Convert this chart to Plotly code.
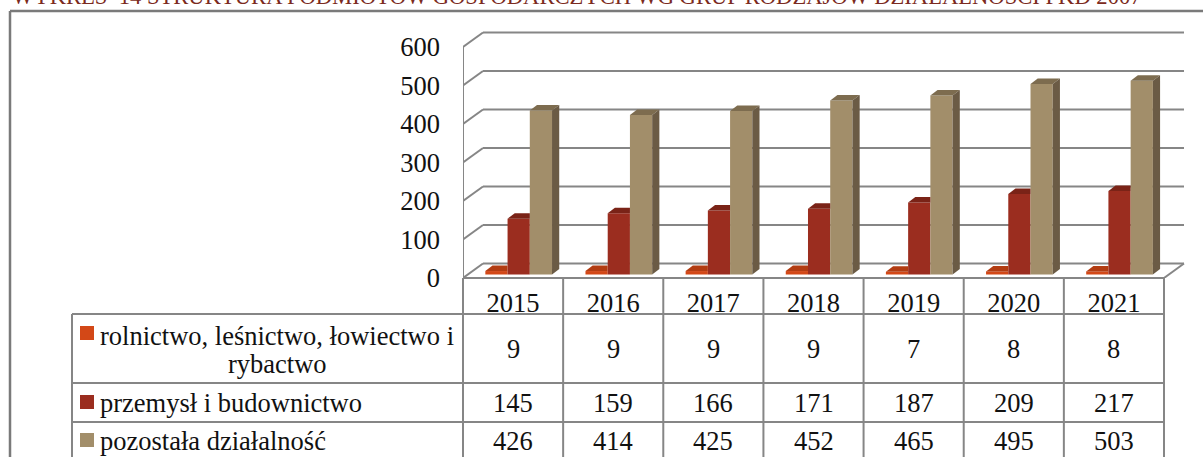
import plotly.graph_objects as go

years = ["2015", "2016", "2017", "2018", "2019", "2020", "2021"]
rolnictwo = [9, 9, 9, 9, 7, 8, 8]
przemysl = [145, 159, 166, 171, 187, 209, 217]
pozostala = [426, 414, 425, 452, 465, 495, 503]
y_ticks = [0, 100, 200, 300, 400, 500, 600]
label_rol_1 = "rolnictwo, leśnictwo, łowiectwo i"
label_rol_2 = "rybactwo"
label_prz = "przemysł i budownictwo"
label_poz = "pozostała działalność"
title = "WYKRES  14 STRUKTURA PODMIOTÓW GOSPODARCZYCH WG GRUP RODZAJÓW DZIAŁALNOŚCI PKD 2007"

W, H = 1203, 457
FONT = "Liberation Serif"
GRID = "#868686"
TXT = "#111111"
FS = 26.5

# plot area in pixels
L, R, T, B = 463, 1190, 20, 278
PX_X = (1164 - 463) / 7          # pixels per category
PX_Y = 0.385                     # pixels per value unit
xr = [-0.5, -0.5 + (R - L) / PX_X]
yr = [0, (B - T) / PX_Y]
ux = lambda px: px / PX_X
uy = lambda px: px / PX_Y
px_paper_x = lambda p: (p - L) / (R - L)
px_paper_y = lambda p: (B - p) / (B - T)

idx = list(range(len(years)))
BAR_W = 0.222
BASE = uy(3.5)
DX, DY = ux(7.2), uy(5.5)
WX, WY = ux(20), uy(14.5)

series = [
    ("rolnictwo", rolnictwo, -0.277, "#D34817", "#B23C12", None),
    ("przemysł", przemysl, -0.055, "#9B2D1F", "#7A2317", None),
    ("pozostała", pozostala, 0.167, "#A28E6A", "#7D6C4F", "#6B5B45"),
]

fig = go.Figure()
for name, vals, off, col, top, side in series:
    fig.add_trace(go.Bar(x=idx, y=vals, base=BASE, offset=off, width=BAR_W, name=name,
                         marker=dict(color=col, line=dict(width=0)), showlegend=False))
for name, vals, off, col, top, side in series:
    for i, v in zip(idx, vals):
        l, r = i + off, i + off + BAR_W
        t = v + BASE
        if side:
            xs = [l, r, r + DX, l + DX, l]
        else:
            xs = [l, r, r, l + DX, l]
        ys = [t, t, t + DY, t + DY, t]
        fig.add_trace(go.Scatter(x=xs, y=ys, mode="lines", fill="toself", fillcolor=top,
                                 line=dict(width=0), hoverinfo="skip", showlegend=False))
        if side:
            fig.add_trace(go.Scatter(x=[r, r + DX, r + DX, r, r],
                                     y=[BASE, BASE + DY, t + DY, t, BASE],
                                     mode="lines", fill="toself", fillcolor=side,
                                     line=dict(width=0), hoverinfo="skip", showlegend=False))

shapes = []
def line(x0, y0, x1, y1, ref="data", w=2, color=GRID):
    if ref == "data":
        shapes.append(dict(type="line", xref="x", yref="y", x0=x0, y0=y0, x1=x1, y1=y1,
                           layer="below", line=dict(color=color, width=w)))
    else:
        shapes.append(dict(type="line", xref="paper", yref="paper",
                           x0=px_paper_x(x0), y0=px_paper_y(y0), x1=px_paper_x(x1), y1=px_paper_y(y1),
                           layer="below", line=dict(color=color, width=w)))

x0, x1 = xr[0], 6.5
for v in y_ticks:
    line(x0 + WX, v + WY, x1 + WX, v + WY)
    line(x0, v, x0 + WX, v + WY)
line(x0, 0, x0, 600)
line(x1, 0, x1 + WX, WY)

# table
TBL_R = 1164
rows = [278, 314, 383, 422, 470]
line(463, rows[0], TBL_R, rows[0], "px")
for y in rows[1:4]:
    line(72, y, TBL_R, y, "px")
for i in range(8):
    xp = 463 + i * PX_X
    line(xp, 278, xp, 470, "px")
line(72, 314, 72, 470, "px")
# outer frame
line(10, 11, 10, 470, "px", w=2.5, color="#7A7A7A")
line(10, 11, 1210, 11, "px", w=2.5, color="#7A7A7A")

annotations = []
def text(px, py, s, size=FS, anchor="center", color=TXT):
    annotations.append(dict(xref="paper", yref="paper", x=px_paper_x(px), y=px_paper_y(py),
                            text=s, showarrow=False, xanchor=anchor, yanchor="middle", align="center",
                            font=dict(family=FONT, size=size, color=color)))

for row_y, vals in zip([349, 403, 441], [rolnictwo, przemysl, pozostala]):
    for i, v in zip(idx, vals):
        text(463 + (i + 0.5) * PX_X, row_y, str(v))
text(277, 336, label_rol_1)
text(277, 364, label_rol_2)
text(98, 403, label_prz, anchor="left")
text(98, 441, label_poz, anchor="left")
text(10, -4.5, title, size=22.6, anchor="left", color="#7B2A20")

for (y0, col) in zip([326, 395, 433], ["#D34817", "#9B2D1F", "#A28E6A"]):
    shapes.append(dict(type="rect", xref="paper", yref="paper",
                       x0=px_paper_x(80), x1=px_paper_x(94),
                       y0=px_paper_y(y0), y1=px_paper_y(y0 + 14),
                       fillcolor=col, line=dict(width=0), layer="above"))

fig.update_layout(
    width=W, height=H, autosize=False,
    margin=dict(l=L, r=W - R, t=T, b=H - B),
    paper_bgcolor="white", plot_bgcolor="rgba(0,0,0,0)",
    barmode="overlay", shapes=shapes, annotations=annotations,
    xaxis=dict(range=xr, tickmode="array", tickvals=idx, ticktext=years, showgrid=False,
               zeroline=False, showline=False, ticks="", ticklabelstandoff=6,
               tickfont=dict(family=FONT, size=FS, color=TXT)),
    yaxis=dict(range=yr, tickmode="array", tickvals=y_ticks, showgrid=False, zeroline=False,
               showline=False, ticks="", ticklabelstandoff=22,
               tickfont=dict(family=FONT, size=FS, color=TXT)),
)
fig.write_html("out.html", config={"displayModeBar": False},
               post_script="document.body.style.margin='0';document.body.style.overflow='hidden';")
